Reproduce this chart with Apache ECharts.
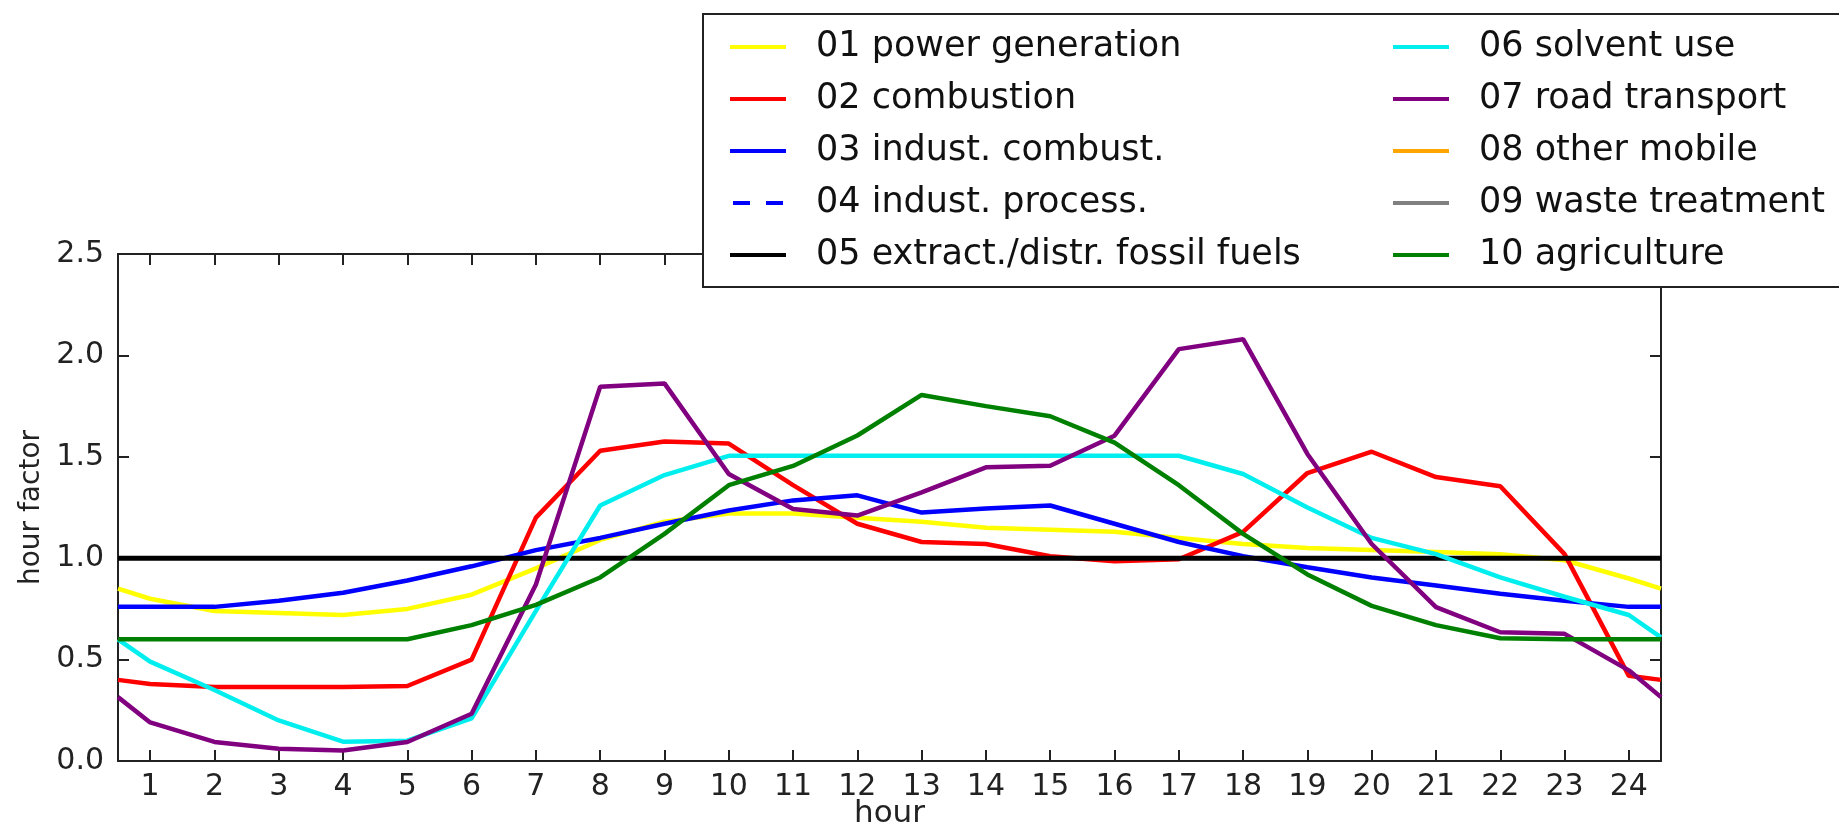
<!DOCTYPE html>
<html>
<head>
<meta charset="utf-8">
<script src="https://cdn.jsdelivr.net/npm/echarts@6/dist/echarts.min.js"></script>
<style>
html,body{margin:0;padding:0;background:#fff;}
#chart{width:1839px;height:830px;}
</style>
</head>
<body>
<div id="chart"></div>
<script>
// x positions: half-hour edges plus hours 1..24
const hourPositions = [0.5,1,2,3,4,5,6,7,8,9,10,11,12,13,14,15,16,17,18,19,20,21,22,23,24,24.5];
const hourTicks = [1,2,3,4,5,6,7,8,9,10,11,12,13,14,15,16,17,18,19,20,21,22,23,24];
const yTicks = [0.0,0.5,1.0,1.5,2.0,2.5];

const seriesNames = [
  '01 power generation','02 combustion','03 indust. combust.','04 indust. process.',
  '05 extract./distr. fossil fuels','06 solvent use','07 road transport','08 other mobile',
  '09 waste treatment','10 agriculture'
];

const powerGeneration = [0.85,0.80,0.74,0.73,0.72,0.75,0.82,0.95,1.09,1.18,1.22,1.22,1.20,1.18,1.15,1.14,1.13,1.10,1.07,1.05,1.04,1.03,1.02,0.99,0.90,0.85];
const combustion      = [0.40,0.38,0.365,0.365,0.365,0.37,0.50,1.20,1.53,1.575,1.565,1.36,1.17,1.08,1.07,1.01,0.985,0.995,1.13,1.42,1.525,1.40,1.355,1.02,0.42,0.40];
const industCombust   = [0.76,0.76,0.76,0.79,0.83,0.89,0.96,1.04,1.10,1.17,1.235,1.285,1.31,1.225,1.245,1.26,1.17,1.08,1.01,0.955,0.905,0.865,0.825,0.79,0.76,0.76];
const industProcess   = [];
const extractFossil   = [1,1,1,1,1,1,1,1,1,1,1,1,1,1,1,1,1,1,1,1,1,1,1,1,1,1];
const solventUse      = [0.60,0.49,0.35,0.20,0.095,0.10,0.21,0.74,1.26,1.41,1.505,1.505,1.505,1.505,1.505,1.505,1.505,1.505,1.415,1.25,1.10,1.02,0.905,0.81,0.72,0.61];
const roadTransport   = [0.315,0.19,0.094,0.06,0.052,0.094,0.233,0.87,1.846,1.862,1.415,1.243,1.21,1.325,1.448,1.456,1.604,2.031,2.08,1.514,1.07,0.759,0.635,0.627,0.447,0.315];
const otherMobile     = [];
const wasteTreatment  = [];
const agriculture     = [0.60,0.60,0.60,0.60,0.60,0.60,0.67,0.77,0.905,1.12,1.36,1.455,1.605,1.805,1.75,1.70,1.57,1.36,1.12,0.92,0.765,0.67,0.605,0.60,0.60,0.60];

const seriesValues = [powerGeneration,combustion,industCombust,industProcess,extractFossil,solventUse,roadTransport,otherMobile,wasteTreatment,agriculture];
const seriesColors = ['#ffff00','#ff0000','#0000ff','#0000ff','#000000','#00eeee','#800080','#ffa500','#808080','#008000'];
const seriesDash   = ['solid','solid','solid',[6,6],'solid','solid','solid','solid','solid','solid'];

const FONT = 'DejaVu Sans';
const SOLID_ICON  = 'path://M0,0h56v4h-56z';
const DASHED_ICON = 'path://M2,0h17v4h-17z M35,0h17v4h-17z';

function pairs(vals){ return vals.map((v,i)=>[hourPositions[i], v]); }

const series = seriesNames.map((name,i)=>({
  name: name,
  type: 'line',
  xAxisIndex: 0,
  yAxisIndex: 0,
  data: pairs(seriesValues[i]),
  symbol: 'none',
  smooth: false,
  animation: false,
  color: seriesColors[i],
  lineStyle: {color: seriesColors[i], width: i===4 ? 5 : 4.5, type: seriesDash[i]}
}));

function legendData(names){
  return names.map(n => ({name: n, icon: seriesDash[seriesNames.indexOf(n)] === 'solid' ? SOLID_ICON : DASHED_ICON}));
}

const axisLineStyle = {color:'#222', width:2};

const legendCommon = {
  orient: 'vertical',
  top: 22,
  itemWidth: 56,
  itemHeight: 4,
  itemGap: 12,
  z: 200,
  selectedMode: false,
  textStyle: {fontFamily: FONT, fontSize: 35, color: '#111', lineHeight: 40, padding:[0,0,0,25]}
};

const chart = echarts.init(document.getElementById('chart'), null, {renderer:'canvas'});
chart.setOption({
  animation: false,
  backgroundColor: '#fff',
  grid: {left:118, right:178, top:254, bottom:69, containLabel:false, outerBoundsMode:'none'},
  legend: [
    Object.assign({}, legendCommon, {left: 725, data: legendData(seriesNames.slice(0,5))}),
    Object.assign({}, legendCommon, {left: 1388, data: legendData(seriesNames.slice(5))})
  ],
  graphic: [{
    type:'rect', z: 100, left: 702, top: 13,
    shape:{x:0, y:0, width:1200, height:273},
    style:{fill:'#fff', stroke:'#222', lineWidth:2}
  }],
  xAxis: [{
    type:'value', position:'bottom', min:0.5, max:24.5,
    name:'hour', nameLocation:'middle', nameGap:37, nameMoveOverlap:false,
    nameTextStyle:{fontFamily:FONT, fontSize:31, color:'#222'},
    axisLine:{show:true, onZero:false, lineStyle:axisLineStyle},
    axisTick:{show:true, inside:true, length:11, lineStyle:axisLineStyle, customValues: hourTicks},
    axisLabel:{show:true, fontFamily:FONT, fontSize:30, color:'#222', margin:11, customValues: hourTicks},
    splitLine:{show:false}
  },{
    type:'value', position:'top', min:0.5, max:24.5,
    axisLine:{show:true, onZero:false, lineStyle:axisLineStyle},
    axisTick:{show:true, inside:true, length:11, lineStyle:axisLineStyle, customValues: hourTicks},
    axisLabel:{show:false},
    splitLine:{show:false}
  }],
  yAxis: [{
    type:'value', position:'left', min:0, max:2.5, interval:0.5,
    name:'hour factor', nameLocation:'middle', nameGap:72, nameRotate:90, nameMoveOverlap:false,
    nameTextStyle:{fontFamily:FONT, fontSize:28, color:'#222'},
    axisLine:{show:true, onZero:false, lineStyle:axisLineStyle},
    axisTick:{show:true, inside:true, length:11, lineStyle:axisLineStyle},
    axisLabel:{show:true, fontFamily:FONT, fontSize:30, color:'#222', margin:14,
      formatter: v => { const t = yTicks.find(x => Math.abs(x - v) < 1e-9); return (t===undefined? v : t).toFixed(1); }},
    splitLine:{show:false}
  },{
    type:'value', position:'right', min:0, max:2.5, interval:0.5,
    axisLine:{show:true, onZero:false, lineStyle:axisLineStyle},
    axisTick:{show:true, inside:true, length:11, lineStyle:axisLineStyle},
    axisLabel:{show:false},
    splitLine:{show:false}
  }],
  series: series
});
</script>
</body>
</html>
